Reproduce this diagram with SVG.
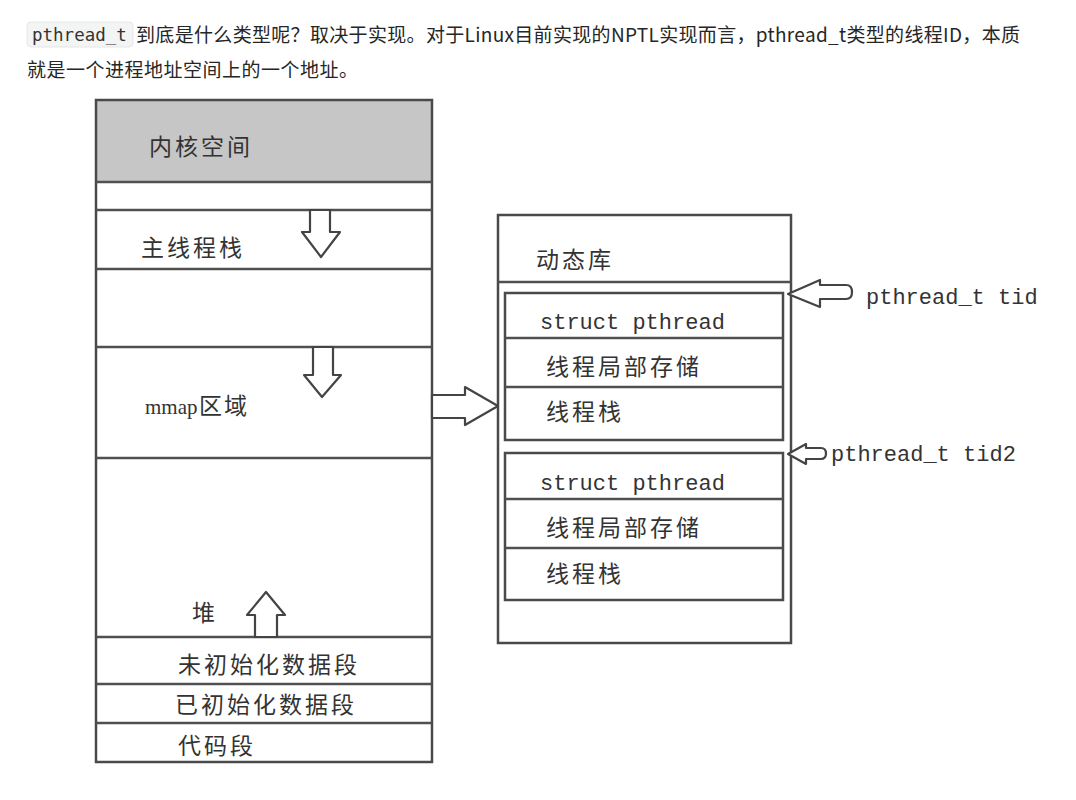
<svg xmlns="http://www.w3.org/2000/svg" width="1076" height="800" viewBox="0 0 1076 800">
<style>
.hdr{font-family:"Noto Sans CJK SC","Noto Sans",sans-serif;font-size:19px;fill:#262626}
.code{font-family:"DejaVu Sans Mono",monospace;font-size:17.5px;fill:#333}
.lbl{font-family:"Noto Sans CJK SC",sans-serif;font-size:23px;fill:#333;letter-spacing:3px}
.mono{font-family:"Liberation Mono","Noto Sans CJK SC",monospace;font-size:22px;fill:#333}
.ser{font-family:"Liberation Serif",serif;font-size:21px;fill:#333}
.box{fill:none;stroke:#4a4a4a;stroke-width:2.5}
.ln{stroke:#505050;stroke-width:2.5;fill:none}
.arr{fill:#fff;stroke:#444;stroke-width:2.2;stroke-linejoin:round}
</style>
<rect width="1076" height="800" fill="#fff"/>
<g id="header">
<rect x="27" y="22" width="106" height="25" rx="4" fill="#f3f4f4" stroke="#e6e6e6"/>
<text class="code" x="32" y="41">pthread_t</text>
<text class="hdr" x="136" y="42" textLength="884" lengthAdjust="spacing">到底是什么类型呢？取决于实现。对于Linux目前实现的NPTL实现而言，pthread_t类型的线程ID，本质</text>
<text class="hdr" x="27" y="77" textLength="331" lengthAdjust="spacing">就是一个进程地址空间上的一个地址。</text>
</g>
<g id="address-space">
<rect x="96" y="100" width="336" height="82" fill="#c6c6c6"/>
<rect class="box" x="96" y="100" width="336" height="662"/>
<line class="ln" x1="96" y1="182" x2="432" y2="182"/>
<line class="ln" x1="96" y1="210" x2="432" y2="210"/>
<line class="ln" x1="96" y1="269" x2="432" y2="269"/>
<line class="ln" x1="96" y1="347" x2="432" y2="347"/>
<line class="ln" x1="96" y1="458" x2="432" y2="458"/>
<line class="ln" x1="96" y1="637" x2="432" y2="637"/>
<line class="ln" x1="96" y1="684" x2="432" y2="684"/>
<line class="ln" x1="96" y1="723" x2="432" y2="723"/>
<text class="lbl" x="149" y="155">内核空间</text>
<text class="lbl" x="141" y="256">主线程栈</text>
<text class="ser" x="145" y="414">mmap</text>
<text class="lbl" x="199" y="414" style="letter-spacing:2px">区域</text>
<text class="lbl" x="192" y="621">堆</text>
<text class="lbl" x="178" y="673">未初始化数据段</text>
<text class="lbl" x="175" y="713">已初始化数据段</text>
<text class="lbl" x="178" y="754">代码段</text>
</g>
<g id="dynamic-lib">
<rect class="box" x="498" y="215" width="293" height="428"/>
<line class="ln" x1="498" y1="282" x2="791" y2="282"/>
<text class="lbl" x="536" y="268">动态库</text>
</g>
<g id="thread1">
<rect class="box" x="505" y="293" width="278" height="147"/>
<line class="ln" x1="505" y1="338" x2="783" y2="338"/>
<line class="ln" x1="505" y1="387" x2="783" y2="387"/>
<text class="mono" x="540" y="329">struct pthread</text>
<text class="lbl" x="546" y="375">线程局部存储</text>
<text class="lbl" x="546" y="420">线程栈</text>
</g>
<g id="thread2">
<rect class="box" x="505" y="453" width="278" height="147"/>
<line class="ln" x1="505" y1="499" x2="783" y2="499"/>
<line class="ln" x1="505" y1="548" x2="783" y2="548"/>
<text class="mono" x="540" y="490">struct pthread</text>
<text class="lbl" x="546" y="536">线程局部存储</text>
<text class="lbl" x="546" y="582">线程栈</text>
</g>
<g id="tid-labels">
<text class="mono" x="866" y="304">pthread_t tid</text>
<text class="mono" x="831" y="461">pthread_t tid2</text>
</g>
<g id="connectors">
<path class="arr" d="M310,210 L330,210 L330,232 L340,232 L321,257 L302,232 L310,232 Z"/>
<path class="arr" d="M313,347 L333,347 L333,375 L341,375 L322,397 L304,375 L313,375 Z"/>
<path class="arr" d="M255,637 L255,615 L247,615 L266,592 L285,615 L277,615 L277,637 Z"/>
<path class="arr" d="M432,395 L465,395 L465,387 L498,406 L465,425 L465,418 L432,418 Z"/>
<path class="arr" d="M788,294 L820,280 L820,285 L846,285 Q852,285 852,292 Q852,299 846,299 L820,299 L820,307 Z"/>
<path class="arr" d="M788,454 L806,444 L806,448 L821,448 Q826,448 826,453.5 Q826,459 821,459 L806,459 L806,464 Z"/>
</g>
</svg>
